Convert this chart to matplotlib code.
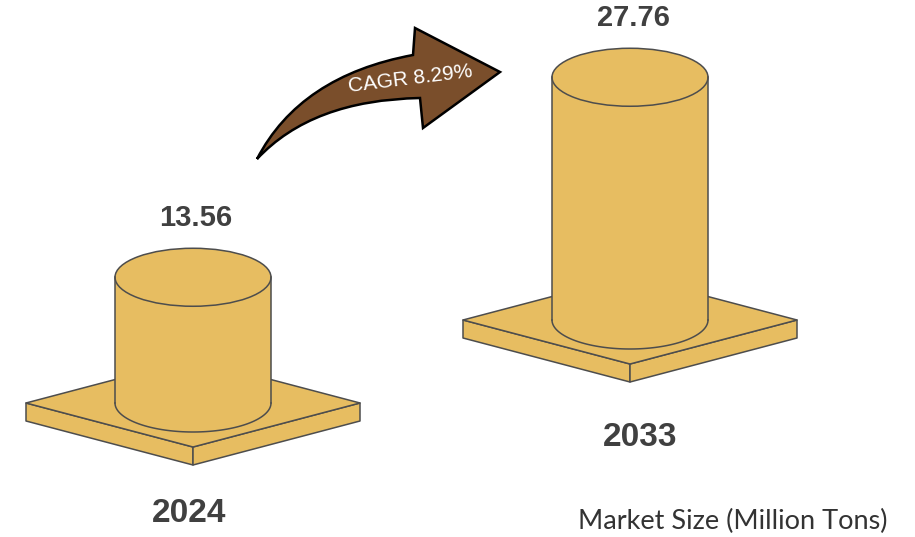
import numpy as np
import matplotlib
matplotlib.use('Agg')
import matplotlib.pyplot as plt
from matplotlib.patches import Polygon, Ellipse, PathPatch
from matplotlib.path import Path

years = ['2024', '2033']
values = [13.56, 27.76]
cagr_text = 'CAGR 8.29%'
unit_text = 'Market Size (Million Tons)'

gold = '#E7BD61'
edge = '#4D4D4D'
brown = '#7A4E2B'
label_col = '#404040'

# layout in pixel space (y grows downward)
centers_x = [193, 630]
base_y = [403, 320]
year_x = [189, 640]
year_y = [513, 437]
h0, px_per_unit = 14, 8.24
rx, ry = 78, 29            # cylinder radius / ellipse half-height
plate_w, plate_d, plate_t = 167, 44, 18

fig = plt.figure(figsize=(9.15, 5.37), dpi=100)
ax = fig.add_axes([0, 0, 1, 1])
ax.set_xlim(0, 915)
ax.set_ylim(537, 0)
ax.axis('off')


def draw_plate(cx, cy):
    left = (cx - plate_w, cy)
    front = (cx, cy + plate_d)
    right = (cx + plate_w, cy)
    back = (cx, cy - plate_d)
    t = plate_t
    faces = [
        [left, front, (front[0], front[1] + t), (left[0], left[1] + t)],
        [front, right, (right[0], right[1] + t), (front[0], front[1] + t)],
        [left, front, right, back],
    ]
    for f in faces:
        ax.add_patch(Polygon(f, closed=True, fc=gold, ec=edge, lw=1.1, joinstyle='round'))


def draw_cylinder(cx, cy, h):
    top = cy - h
    th = np.linspace(0, np.pi, 80)
    # body: two sides plus the front half of the bottom ellipse
    bx = cx + rx * np.cos(th)
    by = cy + ry * np.sin(th)
    xs = np.concatenate([[cx + rx], bx, [cx - rx]])
    ys = np.concatenate([[top], by, [top]])
    ax.add_patch(Polygon(np.column_stack([xs, ys]), closed=True, fc=gold, ec='none'))
    ax.plot(bx, by, color=edge, lw=1.1)
    ax.plot([cx - rx, cx - rx], [top, cy], color=edge, lw=1.1)
    ax.plot([cx + rx, cx + rx], [top, cy], color=edge, lw=1.1)
    ax.add_patch(Ellipse((cx, top), 2 * rx, 2 * ry, fc=gold, ec=edge, lw=1.1))
    return top - ry


for yr, val, cx, cy, yx, yy in zip(years, values, centers_x, base_y, year_x, year_y):
    draw_plate(cx, cy)
    top_edge = draw_cylinder(cx, cy, h0 + val * px_per_unit)
    ax.text(cx + 3, top_edge - 30, f'{val:.2f}', ha='center', va='center',
            fontsize=21, fontweight='bold', color=label_col, family='Liberation Sans')
    ax.text(yx, yy, yr, ha='center', va='center',
            fontsize=24, fontweight='bold', color=label_col, family='Liberation Sans')

# curved growth arrow
verts = [(257, 159), (300, 76), (413, 55),
         (415, 28), (500, 72), (423, 128), (420, 98),
         (312, 100), (257, 159)]
codes = [Path.MOVETO, Path.CURVE3, Path.CURVE3,
         Path.LINETO, Path.LINETO, Path.LINETO, Path.LINETO,
         Path.CURVE3, Path.CURVE3]
ax.add_patch(PathPatch(Path(verts, codes), fc=brown, ec='black', lw=1.8, joinstyle='miter'))
ax.text(410, 79, cagr_text, ha='center', va='center', rotation=7,
        fontsize=15, color='white', family='Liberation Sans')

ax.text(888, 521, unit_text, ha='right', va='center', fontsize=19.5,
        color='#333333', family='Lato')

plt.savefig('out.png', dpi=100)
